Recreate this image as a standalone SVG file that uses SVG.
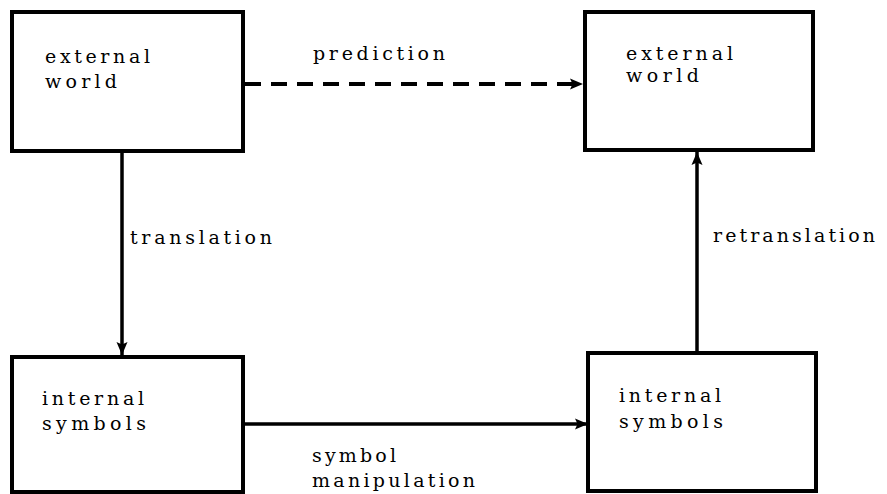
<svg xmlns="http://www.w3.org/2000/svg" width="887" height="494" viewBox="0 0 887 494">
<style>
.box{fill:#fff;stroke:#000;stroke-width:4}
.t{font-family:"DejaVu Serif","Liberation Serif",serif;font-size:19px;fill:#000}
.c{stroke:#000;stroke-width:3.5;fill:none}
.d{stroke-dasharray:16 10;stroke-width:4}
</style>
<defs>
<marker id="ah" markerUnits="userSpaceOnUse" markerWidth="16" markerHeight="14" refX="13" refY="7" orient="auto">
<path d="M0,1.5 L13,7 L0,12.5 L2.5,7 Z" fill="#000"/>
</marker>
</defs>
<g id="connectors">
<line class="c" x1="122" y1="153" x2="122" y2="355" marker-end="url(#ah)"/>
<line class="c d" x1="245" y1="84" x2="583" y2="84" marker-end="url(#ah)"/>
<line class="c" x1="245" y1="424" x2="588" y2="424" marker-end="url(#ah)"/>
<line class="c" x1="697" y1="352" x2="697" y2="152" marker-end="url(#ah)"/>
<text class="t" x="313" y="60" textLength="132" lengthAdjust="spacing">prediction</text>
<text class="t" x="130" y="244" textLength="142" lengthAdjust="spacing">translation</text>
<text class="t" x="713" y="242" textLength="162" lengthAdjust="spacing">retranslation</text>
<text class="t" x="312" y="462" textLength="84" lengthAdjust="spacing">symbol</text>
<text class="t" x="312" y="487" textLength="163" lengthAdjust="spacing">manipulation</text>
</g>
<g id="ext1">
<rect class="box" x="12" y="12" width="231" height="139"/>
<text class="t" x="45" y="63" textLength="105" lengthAdjust="spacing">external</text>
<text class="t" x="45" y="88" textLength="72" lengthAdjust="spacing">world</text>
</g>
<g id="ext2">
<rect class="box" x="585" y="12" width="228" height="138"/>
<text class="t" x="626" y="60" textLength="107" lengthAdjust="spacing">external</text>
<text class="t" x="626" y="82" textLength="73" lengthAdjust="spacing">world</text>
</g>
<g id="int1">
<rect class="box" x="12" y="357" width="231" height="135"/>
<text class="t" x="42" y="405" textLength="102" lengthAdjust="spacing">internal</text>
<text class="t" x="42" y="430" textLength="104" lengthAdjust="spacing">symbols</text>
</g>
<g id="int2">
<rect class="box" x="588" y="353" width="228" height="138"/>
<text class="t" x="619" y="402" textLength="102" lengthAdjust="spacing">internal</text>
<text class="t" x="619" y="428" textLength="104" lengthAdjust="spacing">symbols</text>
</g>
</svg>
